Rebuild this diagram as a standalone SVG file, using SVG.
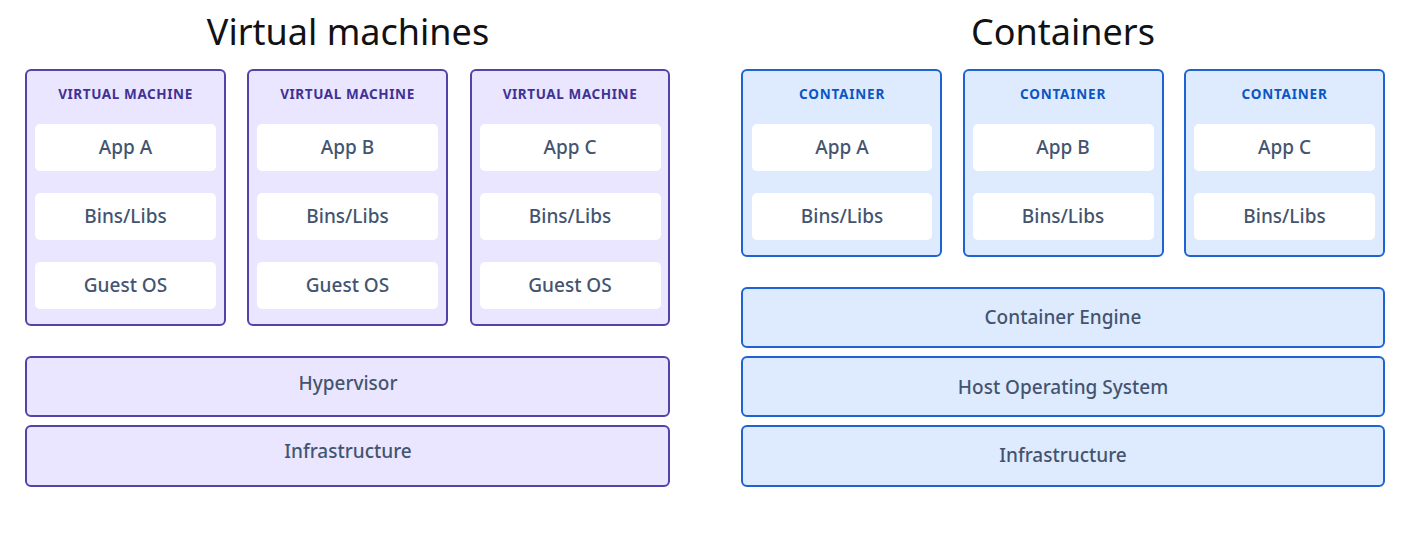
<svg xmlns="http://www.w3.org/2000/svg" width="1412" height="536" viewBox="0 0 1412 536">
  <style>
    .title { font-family: "Noto Sans", "Liberation Sans", sans-serif; font-size: 36px; fill: #101214; text-anchor: middle; }
    .vm { fill: #eae6ff; stroke: #5243aa; stroke-width: 2; }
    .ct { fill: #deebff; stroke: #1d63d1; stroke-width: 2; }
    .inner { fill: #ffffff; }
    .lbl { font-family: "Noto Sans", "Liberation Sans", sans-serif; font-size: 19px; font-weight: 500; fill: #44546f; text-anchor: middle; }
    .vmh { font-family: "Noto Sans", "Liberation Sans", sans-serif; font-size: 13.5px; font-weight: bold; fill: #403294; text-anchor: middle; letter-spacing: 0.6px; }
    .cth { font-family: "Noto Sans", "Liberation Sans", sans-serif; font-size: 13.5px; font-weight: bold; fill: #0c55c4; text-anchor: middle; letter-spacing: 0.8px; }
  </style>

  <text class="title" x="348" y="45">Virtual machines</text>
  <text class="title" x="1063" y="45">Containers</text>

  <!-- Virtual machine stack -->
  <g id="vm-a">
    <rect class="vm" x="26" y="70" width="199" height="255" rx="5"/>
    <text class="vmh" x="125.5" y="99">VIRTUAL MACHINE</text>
    <rect class="inner" x="35" y="124" width="181" height="47" rx="5"/>
    <text class="lbl" x="125.5" y="154">App A</text>
    <rect class="inner" x="35" y="193" width="181" height="47" rx="5"/>
    <text class="lbl" x="125.5" y="223">Bins/Libs</text>
    <rect class="inner" x="35" y="262" width="181" height="47" rx="5"/>
    <text class="lbl" x="125.5" y="292">Guest OS</text>
  </g>
  <g id="vm-b">
    <rect class="vm" x="248" y="70" width="199" height="255" rx="5"/>
    <text class="vmh" x="347.5" y="99">VIRTUAL MACHINE</text>
    <rect class="inner" x="257" y="124" width="181" height="47" rx="5"/>
    <text class="lbl" x="347.5" y="154">App B</text>
    <rect class="inner" x="257" y="193" width="181" height="47" rx="5"/>
    <text class="lbl" x="347.5" y="223">Bins/Libs</text>
    <rect class="inner" x="257" y="262" width="181" height="47" rx="5"/>
    <text class="lbl" x="347.5" y="292">Guest OS</text>
  </g>
  <g id="vm-c">
    <rect class="vm" x="471" y="70" width="198" height="255" rx="5"/>
    <text class="vmh" x="570" y="99">VIRTUAL MACHINE</text>
    <rect class="inner" x="480" y="124" width="181" height="47" rx="5"/>
    <text class="lbl" x="570" y="154">App C</text>
    <rect class="inner" x="480" y="193" width="181" height="47" rx="5"/>
    <text class="lbl" x="570" y="223">Bins/Libs</text>
    <rect class="inner" x="480" y="262" width="181" height="47" rx="5"/>
    <text class="lbl" x="570" y="292">Guest OS</text>
  </g>
  <g id="hypervisor">
    <rect class="vm" x="26" y="357" width="643" height="59" rx="5"/>
    <text class="lbl" x="348" y="390">Hypervisor</text>
  </g>
  <g id="vm-infrastructure">
    <rect class="vm" x="26" y="426" width="643" height="60" rx="5"/>
    <text class="lbl" x="348" y="458">Infrastructure</text>
  </g>

  <!-- Container stack -->
  <g id="ct-a">
    <rect class="ct" x="742" y="70" width="199" height="186" rx="5"/>
    <text class="cth" x="842" y="99">CONTAINER</text>
    <rect class="inner" x="752" y="124" width="180" height="47" rx="5"/>
    <text class="lbl" x="842" y="154">App A</text>
    <rect class="inner" x="752" y="193" width="180" height="47" rx="5"/>
    <text class="lbl" x="842" y="223">Bins/Libs</text>
  </g>
  <g id="ct-b">
    <rect class="ct" x="964" y="70" width="199" height="186" rx="5"/>
    <text class="cth" x="1063" y="99">CONTAINER</text>
    <rect class="inner" x="973" y="124" width="181" height="47" rx="5"/>
    <text class="lbl" x="1063" y="154">App B</text>
    <rect class="inner" x="973" y="193" width="181" height="47" rx="5"/>
    <text class="lbl" x="1063" y="223">Bins/Libs</text>
  </g>
  <g id="ct-c">
    <rect class="ct" x="1185" y="70" width="199" height="186" rx="5"/>
    <text class="cth" x="1284.5" y="99">CONTAINER</text>
    <rect class="inner" x="1194" y="124" width="181" height="47" rx="5"/>
    <text class="lbl" x="1284.5" y="154">App C</text>
    <rect class="inner" x="1194" y="193" width="181" height="47" rx="5"/>
    <text class="lbl" x="1284.5" y="223">Bins/Libs</text>
  </g>
  <g id="container-engine">
    <rect class="ct" x="742" y="288" width="642" height="59" rx="5"/>
    <text class="lbl" x="1063" y="324">Container Engine</text>
  </g>
  <g id="host-os">
    <rect class="ct" x="742" y="357" width="642" height="59" rx="5"/>
    <text class="lbl" x="1063" y="394">Host Operating System</text>
  </g>
  <g id="ct-infrastructure">
    <rect class="ct" x="742" y="426" width="642" height="60" rx="5"/>
    <text class="lbl" x="1063" y="462">Infrastructure</text>
  </g>

  <g id="connectors"/>
</svg>
